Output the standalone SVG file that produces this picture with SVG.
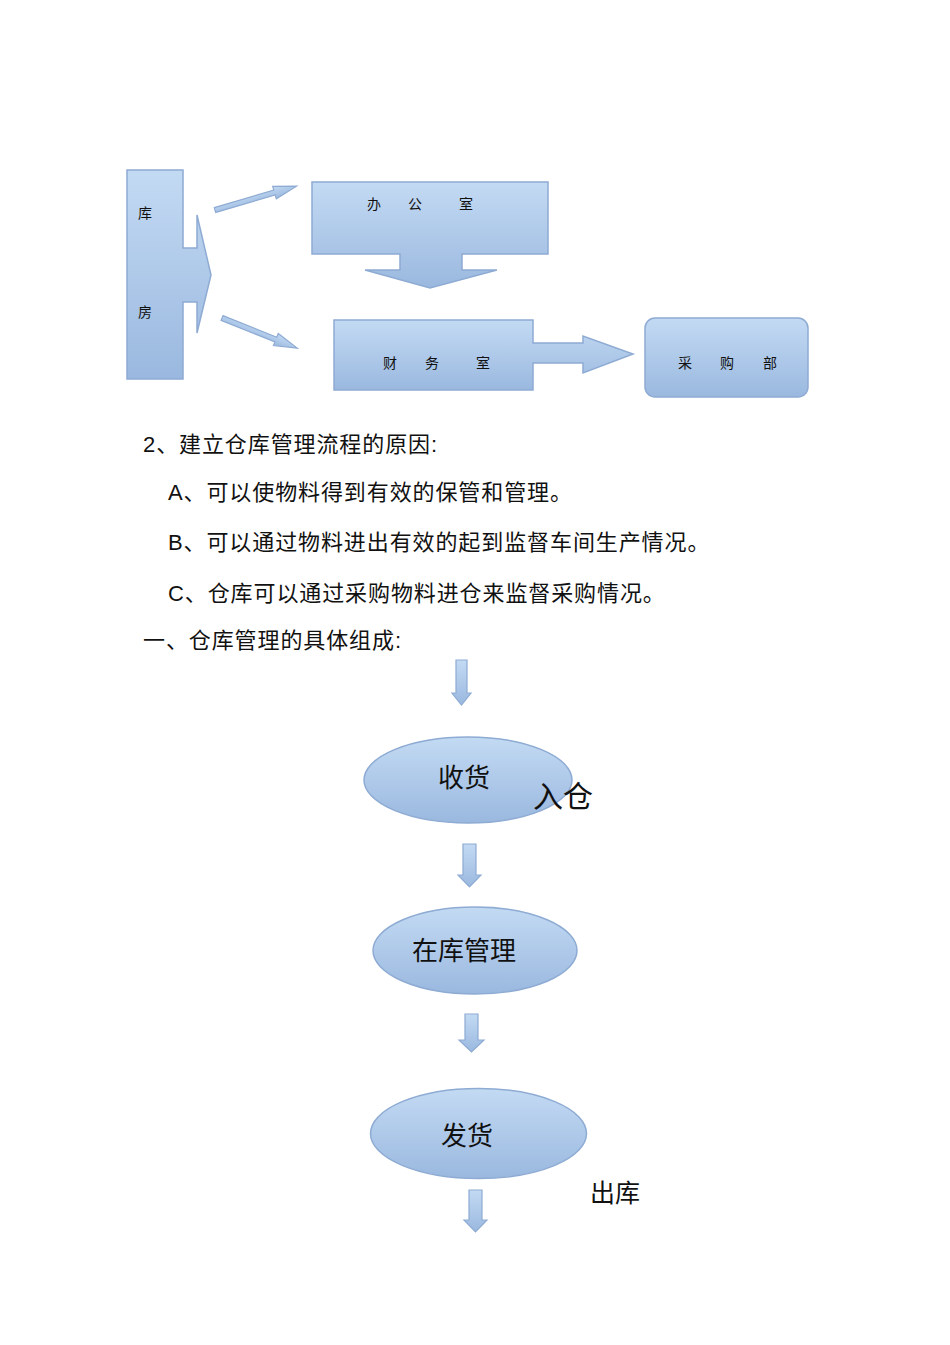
<svg xmlns="http://www.w3.org/2000/svg" width="950" height="1345" viewBox="0 0 950 1345">
<style>
.shape{fill:url(#blue);stroke:#8eabd3;stroke-width:1.5;}
.arrow{fill:url(#blue);stroke:#8eabd3;stroke-width:1.2;}
.lbl{font-family:"Liberation Sans","Noto Sans CJK SC",sans-serif;font-size:14px;fill:#111;}
.txt{font-family:"Liberation Sans","Noto Sans CJK SC",sans-serif;font-size:22px;letter-spacing:0.9px;fill:#111;}
.big{font-family:"Liberation Sans","Noto Sans CJK SC",sans-serif;font-size:26px;fill:#111;}
</style>
<defs>
<linearGradient id="blue" x1="0" y1="0" x2="0" y2="1">
<stop offset="0" stop-color="#c3daf3"/>
<stop offset="1" stop-color="#9ab8df"/>
</linearGradient>
</defs>
<rect width="950" height="1345" fill="#fff"/>
<g id="connectors">
<path class="arrow" transform="translate(215,210) rotate(-16.3)" d="M0,-2.5 H62 V-6.5 L85,0 L62,6.5 V2.5 H0 Z"/>
<path class="arrow" transform="translate(222,318) rotate(21.8)" d="M0,-2.5 H58 V-6.5 L81,0 L58,6.5 V2.5 H0 Z"/>
<path class="arrow" d="M456,660 H467 V693 H471 L461.5,705 L452,693 H456 Z"/>
<path class="arrow" d="M463,844 H476 V875 H481 L469.5,887 L458,875 H463 Z"/>
<path class="arrow" d="M465,1014 H478 V1040 H484 L471.5,1052 L459,1040 H465 Z"/>
<path class="arrow" d="M469,1190 H482 V1220 H487 L475.5,1232 L464,1220 H469 Z"/>
</g>
<g id="kufang">
<path class="shape" d="M127,170 H183 V248 H197 V215 L211,275 L197,333 V302 H183 V379 H127 Z"/>
<text class="lbl" x="138" y="218">库</text>
<text class="lbl" x="138" y="317">房</text>
</g>
<g id="bangongshi">
<path class="shape" d="M312,182 H548 V254 H462 V270 H497 L430,288 L365,270 H400 V254 H312 Z"/>
<text class="lbl" x="367" y="209">办</text>
<text class="lbl" x="408" y="209">公</text>
<text class="lbl" x="459" y="209">室</text>
</g>
<g id="caiwushi">
<path class="shape" d="M334,320 H533 V343 H583 V336 L633,354 L583,373 V363 H533 V390 H334 Z"/>
<text class="lbl" x="383" y="368">财</text>
<text class="lbl" x="425" y="368">务</text>
<text class="lbl" x="476" y="368">室</text>
</g>
<g id="caigoubu">
<rect class="shape" x="645" y="318" width="163" height="79" rx="10"/>
<text class="lbl" x="678" y="368">采</text>
<text class="lbl" x="720" y="368">购</text>
<text class="lbl" x="763" y="368">部</text>
</g>
<g id="text-block">
<text class="txt" x="143" y="452">2、建立仓库管理流程的原因:</text>
<text class="txt" x="168" y="500">A、可以使物料得到有效的保管和管理。</text>
<text class="txt" x="168" y="550">B、可以通过物料进出有效的起到监督车间生产情况。</text>
<text class="txt" x="168" y="601">C、仓库可以通过采购物料进仓来监督采购情况。</text>
<text class="txt" x="143" y="648">一、仓库管理的具体组成:</text>
</g>
<g id="shouhuo">
<ellipse class="shape" cx="468" cy="780" rx="104" ry="43"/>
<text class="big" x="464" y="787" text-anchor="middle">收货</text>
</g>
<text id="ruchang" class="big" x="533" y="807" style="font-size:30px">入仓</text>
<g id="zaikuguanli">
<ellipse class="shape" cx="475" cy="950.5" rx="102" ry="43.5"/>
<text class="big" x="464" y="960" text-anchor="middle">在库管理</text>
</g>
<g id="fahuo">
<ellipse class="shape" cx="478.5" cy="1133.5" rx="108" ry="45"/>
<text class="big" x="467" y="1145" text-anchor="middle">发货</text>
</g>
<text id="chuku" class="big" x="590" y="1202" style="font-size:25px">出库</text>
</svg>
